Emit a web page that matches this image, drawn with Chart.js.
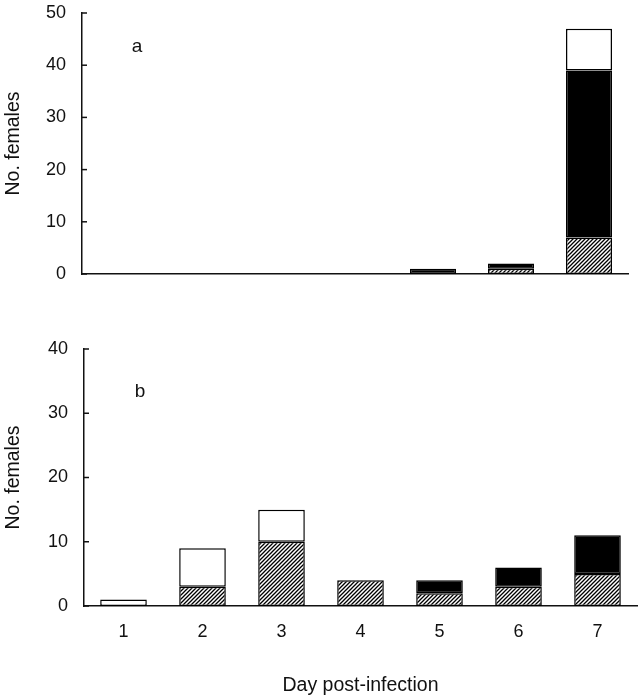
<!DOCTYPE html>
<html>
<head>
<meta charset="utf-8">
<script src="https://cdn.jsdelivr.net/npm/chart.js@4"></script>
<style>
  body { margin: 0; background: #fff; }
  #wrap { position: relative; width: 641px; height: 698px; }
  #chartA { position: absolute; left: 0; top: 0; }
  #chartB { position: absolute; left: 0; top: 320px; }
</style>
</head>
<body>
<div id="wrap">
  <canvas id="chartA" width="641" height="290"></canvas>
  <canvas id="chartB" width="641" height="378"></canvas>
</div>
<script>
const days = ["1", "2", "3", "4", "5", "6", "7"];

// panel a
const aHatched = [0, 0, 0, 0, 0, 1, 7];
const aBlack = [0, 0, 0, 0, 1, 1, 32];
const aWhite = [0, 0, 0, 0, 0, 0, 8];
const aMax = 50;

// panel b
const bHatched = [0, 3, 10, 4, 2, 3, 5];
const bBlack = [0, 0, 0, 0, 2, 3, 6];
const bWhite = [1, 6, 5, 0, 0, 0, 0];
const bMax = 40;

const family = "'Liberation Sans', Arial, sans-serif";
const tickFont = { family: family, size: 18 };
const titleFont = { family: family, size: 19.5 };
const ink = "#111";

function hatch() {
  const c = document.createElement("canvas");
  c.width = 4;
  c.height = 4;
  const ctx = c.getContext("2d");
  ctx.fillStyle = "#fff";
  ctx.fillRect(0, 0, 4, 4);
  ctx.strokeStyle = "#000";
  ctx.lineWidth = 1.3;
  ctx.beginPath();
  ctx.moveTo(-1, 5); ctx.lineTo(5, -1);
  ctx.moveTo(-1, 1); ctx.lineTo(1, -1);
  ctx.moveTo(3, 5); ctx.lineTo(5, 3);
  ctx.stroke();
  return ctx.createPattern(c, "repeat");
}

// inward tick marks on the y axis + panel letter
const extras = {
  id: "extras",
  afterDraw(chart, args, opts) {
    const ctx = chart.ctx;
    const y = chart.scales.y;
    const left = chart.chartArea.left;
    ctx.save();
    ctx.strokeStyle = ink;
    ctx.lineWidth = 1.5;
    y.ticks.forEach((t) => {
      const py = y.getPixelForValue(t.value);
      ctx.beginPath();
      ctx.moveTo(left, py);
      ctx.lineTo(left + 5, py);
      ctx.stroke();
    });
    ctx.fillStyle = ink;
    ctx.font = "19px " + family;
    ctx.textAlign = "center";
    ctx.textBaseline = "middle";
    ctx.fillText(opts.letter, left + opts.dx, chart.chartArea.top + opts.dy);
    ctx.restore();
  },
};

function makeChart(el, hatched, black, white, max, cfg) {
  const base = {
    borderColor: "#000",
    borderWidth: 1.5,
    borderSkipped: false,
    barPercentage: 0.59,
    categoryPercentage: 1,
  };
  return new Chart(el, {
    type: "bar",
    data: {
      labels: days,
      datasets: [
        Object.assign({ label: "hatched", data: hatched, backgroundColor: hatch() }, base),
        Object.assign({ label: "black", data: black, backgroundColor: "#000" }, base),
        Object.assign({ label: "white", data: white, backgroundColor: "#fff" }, base),
      ],
    },
    options: {
      responsive: false,
      animation: false,
      layout: { padding: cfg.padding },
      plugins: {
        legend: { display: false },
        tooltip: { enabled: false },
        extras: { letter: cfg.letter, dx: cfg.dx, dy: cfg.dy },
      },
      scales: {
        x: {
          stacked: true,
          grid: { display: false, drawTicks: false },
          border: { color: ink, width: 1.5 },
          ticks: { display: cfg.showX, color: ink, font: tickFont, padding: 15 },
          title: {
            display: cfg.showX,
            text: "Day post-infection",
            color: ink,
            font: titleFont,
            padding: { top: 0, bottom: 1 },
          },
          afterFit: (s) => { s.height = cfg.xHeight; },
        },
        y: {
          stacked: true,
          min: 0,
          max: max,
          grid: { display: false, drawTicks: false },
          border: { color: ink, width: 1.5 },
          ticks: { stepSize: 10, color: ink, font: tickFont, padding: 16 },
          title: {
            display: true,
            text: "No. females",
            color: ink,
            font: titleFont,
            padding: { top: 2, bottom: 0 },
          },
          afterFit: (s) => {
            s.width = cfg.yWidth;
            // tick padding would otherwise push the plot area in
            s.paddingTop = 0;
            s.paddingBottom = 0;
          },
        },
      },
    },
    plugins: [extras],
  });
}

makeChart(document.getElementById("chartA"), aHatched, aBlack, aWhite, aMax, {
  padding: { top: 13, right: 13, bottom: 0, left: 0 },
  xHeight: 16,
  yWidth: 82,
  showX: false,
  letter: "a",
  dx: 55,
  dy: 34,
});

makeChart(document.getElementById("chartB"), bHatched, bBlack, bWhite, bMax, {
  padding: { top: 29, right: 4, bottom: 0, left: 0 },
  xHeight: 92,
  yWidth: 84,
  showX: true,
  letter: "b",
  dx: 56,
  dy: 43,
});
</script>
</body>
</html>
